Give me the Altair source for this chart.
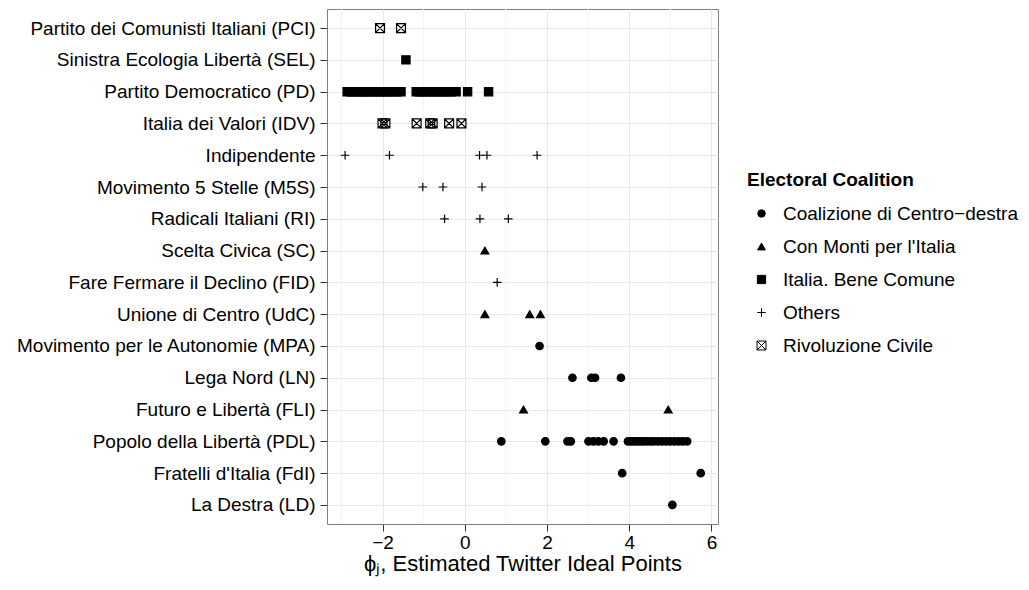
import altair as alt
import pandas as pd

parties = [
    "Partito dei Comunisti Italiani (PCI)",
    "Sinistra Ecologia Libertà (SEL)",
    "Partito Democratico (PD)",
    "Italia dei Valori (IDV)",
    "Indipendente",
    "Movimento 5 Stelle (M5S)",
    "Radicali Italiani (RI)",
    "Scelta Civica (SC)",
    "Fare Fermare il Declino (FID)",
    "Unione di Centro (UdC)",
    "Movimento per le Autonomie (MPA)",
    "Lega Nord (LN)",
    "Futuro e Libertà (FLI)",
    "Popolo della Libertà (PDL)",
    "Fratelli d'Italia (FdI)",
    "La Destra (LD)",
]

coal_order = [
    "Coalizione di Centro\u2212destra",
    "Con Monti per l'Italia",
    "Italia. Bene Comune",
    "Others",
    "Rivoluzione Civile",
]

party_coalition = [
    coal_order[4], coal_order[2], coal_order[2], coal_order[4],
    coal_order[3], coal_order[3], coal_order[3], coal_order[1],
    coal_order[3], coal_order[1], coal_order[0], coal_order[0],
    coal_order[1], coal_order[0], coal_order[0], coal_order[0],
]

pci = [-2.06, -1.55]
sel = [-1.43]
pd_vals = [-2.86, -2.78, -2.71, -2.62, -2.55, -2.47, -2.40, -2.31, -2.22,
           -2.15, -2.06, -1.98, -1.90, -1.81, -1.73, -1.64, -1.55,
           -1.18, -1.10, -1.02, -0.93, -0.85, -0.76, -0.68, -0.59, -0.50,
           -0.42, -0.33, -0.21, 0.07, 0.58]
idv = [-2.00, -1.93, -1.17, -0.84, -0.78, -0.38, -0.08]
indip = [-2.91, -1.83, 0.36, 0.54, 1.76]
m5s = [-1.02, -0.53, 0.42]
ri = [-0.49, 0.37, 1.06]
sc = [0.49]
fid = [0.79]
udc = [0.49, 1.58, 1.84]
mpa = [1.82]
ln = [2.62, 3.08, 3.17, 3.80]
fli = [1.43, 4.95]
pdl = [0.89, 1.96, 2.50, 2.58, 3.01, 3.13, 3.25, 3.38, 3.62,
       3.97, 4.05, 4.12, 4.20, 4.28, 4.35, 4.44, 4.52, 4.60, 4.70,
       4.80, 4.90, 5.00, 5.10, 5.20, 5.30, 5.41]
fdi = [3.83, 5.74]
ld = [5.05]

ideal_points = [pci, sel, pd_vals, idv, indip, m5s, ri, sc, fid, udc,
                mpa, ln, fli, pdl, fdi, ld]

x_ticks = [-2, 0, 2, 4, 6]
x_minor = [-3, -1, 1, 3, 5]

rows = []
for p, c, vals in zip(parties, party_coalition, ideal_points):
    for v in vals:
        rows.append({"party": p, "Electoral Coalition": c, "phi": v})
df = pd.DataFrame(rows)
minor_df = pd.DataFrame({"m": x_minor})

shapes = [
    "circle",
    "triangle-up",
    "square",
    "M-1,0L1,0M0,-1L0,1",
    "M-1,-1L1,-1L1,1L-1,1ZM-1,-1L1,1M1,-1L-1,1",
]
fills = ["black", "black", "black", "transparent", "transparent"]
sizes = [56, 80, 64, 220, 45]

FONT = "Liberation Sans"
XDOM = [-3.35, 6.16]

minor = alt.Chart(minor_df).mark_rule(color="#F3F3F3", strokeWidth=1).encode(
    x=alt.X("m:Q", scale=alt.Scale(domain=XDOM, nice=False, zero=False))
)

points = alt.Chart(df).mark_point(stroke="black", color="black", strokeWidth=1.2, opacity=1).encode(
    x=alt.X(
        "phi:Q",
        scale=alt.Scale(domain=XDOM, nice=False, zero=False),
        axis=alt.Axis(
            values=x_ticks,
            title="\u03d5\u2c7c, Estimated Twitter Ideal Points",
            titleFontSize=22,
            titleFontWeight="normal",
            titleFont=FONT,
            titleColor="black",
            titlePadding=1,
            grid=True,
            gridColor="#E8E8E8",
            tickSize=7,
            labelPadding=2,
        ),
    ),
    y=alt.Y(
        "party:N",
        sort=parties,
        scale=alt.Scale(type="point", padding=0.6),
        axis=alt.Axis(title=None, grid=True, gridColor="#E8E8E8", tickSize=7,
                      labelPadding=5, labelLimit=500),
    ),
    shape=alt.Shape(
        "Electoral Coalition:N",
        scale=alt.Scale(domain=coal_order, range=shapes),
        legend=alt.Legend(
            orient="none",
            legendX=420,
            legendY=162,
            titleFontSize=19,
            titleFont=FONT,
            titleFontWeight="bold",
            titleColor="black",
            titlePadding=14,
            labelFontSize=19,
            labelFont=FONT,
            labelColor="black",
            labelLimit=400,
            rowPadding=13,
            symbolOffset=5,
            labelOffset=12,
            symbolStrokeColor="black",
            symbolStrokeWidth=1,
        ),
    ),
    fill=alt.Fill("Electoral Coalition:N", scale=alt.Scale(domain=coal_order, range=fills)),
    size=alt.Size("Electoral Coalition:N", scale=alt.Scale(domain=coal_order, range=sizes)),
)

chart = (
    alt.layer(minor, points)
    .properties(
        width=391,
        height=515,
        autosize=alt.AutoSizeParams(type="none"),
        padding={"left": 327, "top": 9, "right": 311, "bottom": 66},
        background="white",
    )
    .configure_view(stroke="#7F7F7F", strokeWidth=1)
    .configure_axis(
        domain=False,
        tickColor="#333333",
        labelFont=FONT,
        labelFontSize=19,
        labelColor="black",
    )
)

chart.save("out.html", embed_options={"renderer": "svg", "actions": False})
